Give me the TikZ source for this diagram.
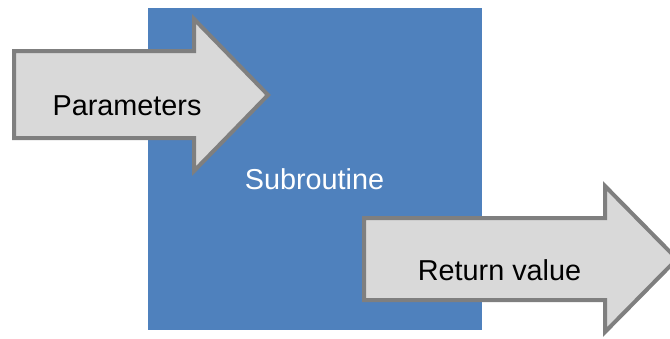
\documentclass[tikz,border=0pt]{standalone}
\usepackage{fontspec}
\setmainfont{Liberation Sans}
\begin{document}
\begin{tikzpicture}[x=1pt,y=-1pt,
  arrowshape/.style={fill=arrowfill,draw=arrowline,line width=4pt,miter limit=10},
  lbl/.style={inner sep=0pt,font=\fontsize{28.8}{34}\selectfont}]
\definecolor{subblue}{HTML}{4F81BD}
\definecolor{arrowfill}{HTML}{D9D9D9}
\definecolor{arrowline}{HTML}{7F7F7F}
\useasboundingbox (0,0) rectangle (670,338);
\clip (0,0) rectangle (670,338);
% subroutine block
\fill[subblue] (148,8) rectangle (482,330);
\node[lbl,text=white,anchor=base] (sub) at (314.5,189) {Subroutine};
% parameters arrow
\draw[arrowshape] (14,51) -- (194,51) -- (194,19) -- (268,95) -- (194,171) -- (194,138) -- (14,138) -- cycle;
\node[lbl,anchor=base] (par) at (127,115) {Parameters};
% return value arrow
\draw[arrowshape] (364,218) -- (605,218) -- (605,186) -- (677,259) -- (605,332) -- (605,300) -- (364,300) -- cycle;
\node[lbl,anchor=base] (ret) at (499.5,280) {Return value};
\end{tikzpicture}
\end{document}
